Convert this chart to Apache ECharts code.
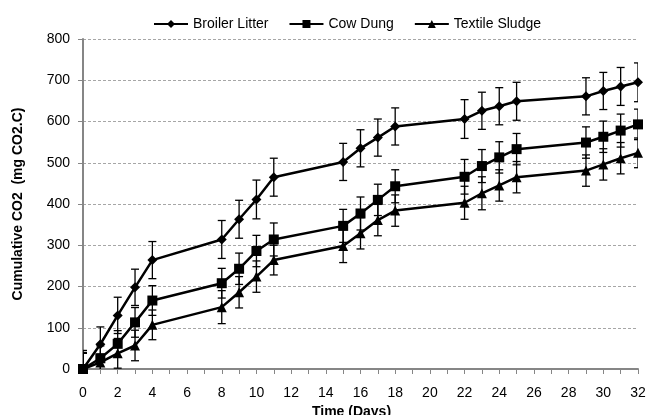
<!DOCTYPE html>
<html>
<head>
<meta charset="utf-8">
<script src="https://cdn.jsdelivr.net/npm/echarts@6/dist/echarts.min.js"></script>
<style>
  html, body { margin: 0; padding: 0; background: #fff; }
  #chart { width: 649px; height: 415px; }
</style>
</head>
<body>
<div id="chart"></div>
<script>
var days = [0, 1, 2, 3, 4, 8, 9, 10, 11, 15, 16, 17, 18, 22, 23, 24, 25, 29, 30, 31, 32]
var broiler = [0, 60, 130, 198, 264, 314, 363, 411, 465, 502, 535, 561, 588, 606, 626, 637, 649, 661, 674, 685, 695]
var cowDung = [0, 26, 61, 113, 166, 208, 243, 286, 314, 347, 377, 410, 443, 466, 492, 513, 533, 549, 563, 578, 593]
var textile = [0, 16, 38, 57, 107, 150, 186, 224, 264, 298, 329, 361, 384, 403, 426, 445, 465, 481, 496, 511, 524]
var broilerErr = [45, 42, 44, 44, 45, 46, 46, 47, 46, 45, 45, 45, 45, 47, 45, 45, 46, 45, 45, 46, 47]
var cowErr = [40, 30, 32, 36, 36, 36, 38, 38, 40, 40, 40, 38, 40, 42, 40, 38, 38, 38, 38, 40, 37]
var textileErr = [38, 20, 36, 37, 36, 40, 38, 38, 36, 40, 38, 38, 38, 40, 40, 38, 38, 38, 38, 38, 36]
var seriesNames = ['Broiler Litter', 'Cow Dung', 'Textile Sludge']

function pairs(vals) {
  return days.map(function (d, i) { return [d, vals[i]] })
}

function errData(vals, errs) {
  return days.map(function (d, i) { return [d, vals[i] - errs[i], vals[i] + errs[i]] })
}

function renderErr(params, api) {
  var lo = api.coord([api.value(0), api.value(1)])
  var hi = api.coord([api.value(0), api.value(2)])
  var w = 4
  var style = { stroke: '#000', lineWidth: 1.3 }
  return {
    type: 'group',
    children: [
      { type: 'line', shape: { x1: hi[0], y1: hi[1], x2: lo[0], y2: lo[1] }, style: style },
      { type: 'line', shape: { x1: hi[0] - w, y1: hi[1], x2: hi[0] + w, y2: hi[1] }, style: style },
      { type: 'line', shape: { x1: lo[0] - w, y1: lo[1], x2: lo[0] + w, y2: lo[1] }, style: style }
    ]
  }
}

function lineSeries(name, vals, symbol, size) {
  return {
    name: name,
    type: 'line',
    data: pairs(vals),
    symbol: symbol,
    symbolSize: size,
    z: 3,
    lineStyle: { color: '#000', width: 2.5 },
    itemStyle: { color: '#000' }
  }
}

function errSeries(vals, errs) {
  return {
    type: 'custom',
    renderItem: renderErr,
    data: errData(vals, errs),
    encode: { x: 0, y: [1, 2] },
    clip: true,
    z: 4,
    silent: true
  }
}

var chart = echarts.init(document.getElementById('chart'))
chart.setOption({
  animation: false,
  textStyle: { fontFamily: 'Liberation Sans, Arial, sans-serif' },
  legend: {
    top: 12,
    left: 148,
    itemWidth: 34,
    itemHeight: 10,
    itemGap: 20,
    textStyle: { color: '#000', fontSize: 14, fontFamily: 'Liberation Sans' },
    data: seriesNames
  },
  grid: { left: 83, right: 11, top: 39, bottom: 46, outerBoundsMode: 'none' },
  xAxis: {
    type: 'value',
    min: 0,
    max: 32,
    interval: 2,
    name: 'Time (Days)',
    nameLocation: 'middle',
    nameGap: 30,
    nameTextStyle: { color: '#000', fontWeight: 'bold', fontSize: 14, padding: [0, 18, 0, 0] },
    axisLine: { lineStyle: { color: '#868686', width: 2 } },
    axisTick: { length: 5, lineStyle: { color: '#868686', width: 1 } },
    minorTick: { show: true, splitNumber: 2, length: 5, lineStyle: { color: '#868686', width: 1 } },
    axisLabel: { color: '#000', fontSize: 14, margin: 17 },
    splitLine: { show: false }
  },
  yAxis: {
    type: 'value',
    min: 0,
    max: 800,
    interval: 100,
    name: 'Cumulative CO2  (mg CO2.C)',
    nameLocation: 'middle',
    nameGap: 58,
    nameTextStyle: { color: '#000', fontWeight: 'bold', fontSize: 14 },
    axisLine: { show: true, lineStyle: { color: '#868686', width: 2 } },
    axisTick: { show: true, length: 5, lineStyle: { color: '#868686', width: 1 } },
    axisLabel: { color: '#000', fontSize: 14, margin: 13 },
    splitLine: { lineStyle: { color: '#a6a6a6', type: [3, 2], width: 1 } }
  },
  series: [
    lineSeries(seriesNames[0], broiler, 'diamond', 10),
    lineSeries(seriesNames[1], cowDung, 'rect', 10),
    lineSeries(seriesNames[2], textile, 'triangle', 10),
    errSeries(broiler, broilerErr),
    errSeries(cowDung, cowErr),
    errSeries(textile, textileErr)
  ]
})
</script>
</body>
</html>
